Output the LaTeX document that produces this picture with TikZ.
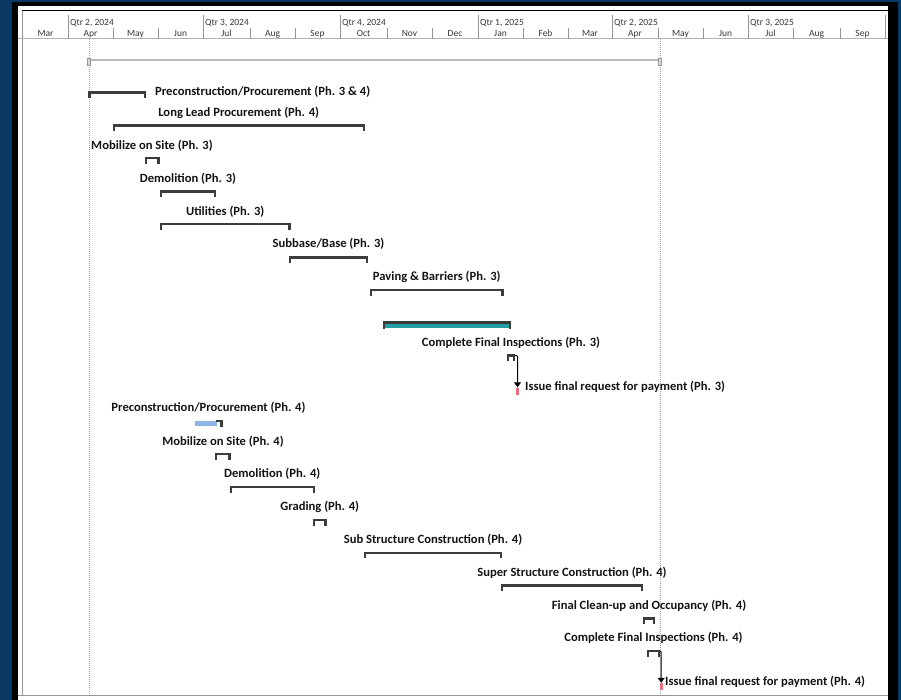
\documentclass[tikz,border=0pt]{standalone}
\usepackage{fontspec}
\setmainfont{Carlito}
\usetikzlibrary{arrows.meta}
\definecolor{navy}{RGB}{10,57,100}
\definecolor{barc}{RGB}{60,60,60}
\definecolor{tealc}{RGB}{36,158,160}
\definecolor{lblue}{RGB}{141,180,226}
\definecolor{pinkc}{RGB}{232,110,130}
\definecolor{txt}{RGB}{20,20,20}
\definecolor{hdr}{RGB}{55,55,55}
\definecolor{sepc}{RGB}{150,150,150}
\newcommand\ganttbar[4]{%
  \draw[barline] (#2,#4) -- (#3,#4);
  \fill[barc] (#2,{#4-1.2}) rectangle ({#2+2.4},{#4+5.5});
  \fill[barc] ({#3-2.4},{#4-1.2}) rectangle (#3,{#4+5.5});
  \coordinate (#1-s) at (#2,#4);
  \coordinate (#1-e) at (#3,#4);}
\newcommand\ganttlabel[4]{\node[lbl] (#1) at (#2,#3) {#4};}
\begin{document}
\begin{tikzpicture}[x=1pt,y=-1pt,
 barline/.style={barc,line width=2.3},
 lbl/.style={font=\fontsize{12.6}{14}\selectfont\bfseries,text=txt,inner sep=0pt},
 hdrtxt/.style={font=\fontsize{9.5}{10}\selectfont,text=hdr,inner sep=0pt},
 sepline/.style={sepc,line width=0.8},
 dotline/.style={gray!70,line width=0.9,dash pattern=on 1pt off 1pt},
 milestone/.style={rectangle,fill=pinkc,draw=none,minimum width=2.6pt,minimum height=7pt,inner sep=0pt},
 conn/.style={black,line width=1,rounded corners=1pt,-{Triangle[width=7pt,length=5pt]}}]
\useasboundingbox (0,0) rectangle (901,700);
% frame
\fill[navy] (0,0) rectangle (901,700);
\fill[black] (12,2) rectangle (898,700);
\fill[white] (18,6) rectangle (888,700);
% header
\draw[black,line width=1] (22,11) -- (888,11);
\draw[sepline] (22,11) -- (22,695);
\draw[gray!60,line width=1] (18,39) -- (888,39);
\draw[sepline] (18,695) -- (888,695);
\foreach \x in {68,203,340,478,612,748,885} \draw[sepline] (\x,15) -- (\x,39);
\foreach \x in {113,158,250,295,387,432,523,568,658,703,793,840} \draw[sepline] (\x,28) -- (\x,39);
\foreach \a/\b/\m [count=\i] in {23/68/Mar,68/113/Apr,113/158/May,158/203/Jun,203/250/Jul,250/295/Aug,295/340/Sep,340/387/Oct,387/432/Nov,432/478/Dec,478/523/Jan,523/568/Feb,568/612/Mar,612/658/Apr,658/703/May,703/748/Jun,748/793/Jul,793/840/Aug,840/885/Sep}
  \node[hdrtxt,anchor=base] (mon\i) at ({(\a+\b)/2},36.5) {\m};
\node[hdrtxt,anchor=base west] (q1) at (70,26) {Qtr 2, 2024};
\node[hdrtxt,anchor=base west] (q2) at (205,26) {Qtr 3, 2024};
\node[hdrtxt,anchor=base west] (q3) at (342,26) {Qtr 4, 2024};
\node[hdrtxt,anchor=base west] (q4) at (480,26) {Qtr 1, 2025};
\node[hdrtxt,anchor=base west] (q5) at (614,26) {Qtr 2, 2025};
\node[hdrtxt,anchor=base west] (q6) at (750,26) {Qtr 3, 2025};
% date lines
\draw[dotline] (89,39) -- (89,695);
\draw[dotline] (660,39) -- (660,695);
% project summary
\draw[gray!55,line width=1.7] (89,60) -- (660,60);
\draw[gray!80,fill=gray!30,line width=0.5] (87.5,58.5) rectangle (90.5,65);
\draw[gray!80,fill=gray!30,line width=0.5] (658.5,58.5) rectangle (661.5,65.5);
% row 1
\ganttbar{t1}{87.5}{146}{92.5}
\fill[barc] (87.5,91.3) rectangle (90.8,98);
\node[lbl,anchor=west] (t1l) at (155,91.7) {Preconstruction/Procurement (Ph. 3 \& 4)};
% rows 2-7
\ganttbar{t2}{112.5}{365}{125.5}
\ganttlabel{t2l}{238.75}{112.7}{Long Lead Procurement (Ph. 4)}
\ganttbar{t3}{144.5}{159.5}{158.3}
\ganttlabel{t3l}{152}{145.5}{Mobilize on Site (Ph. 3)}
\ganttbar{t4}{160}{216}{191.5}
\ganttlabel{t4l}{188}{178.3}{Demolition (Ph. 3)}
\ganttbar{t5}{160}{290.5}{224.2}
\ganttlabel{t5l}{225.25}{211.3}{Utilities (Ph. 3)}
\ganttbar{t6}{289}{368}{257.5}
\ganttlabel{t6l}{328.5}{244.2}{Subbase/Base (Ph. 3)}
\ganttbar{t7}{370}{503.5}{290.3}
\ganttlabel{t7l}{436.75}{277.3}{Paving \& Barriers (Ph. 3)}
% row 8 (teal)
\fill[tealc] (384,323.5) rectangle (510,328.3);
\draw[barc,line width=2.2] (383,322.5) -- (511,322.5);
\fill[barc] (383,321.4) rectangle (385.4,328.6);
\fill[barc] (508.6,321.4) rectangle (511,328.6);
% row 9
\ganttbar{t9}{507}{515}{355.5}
\ganttlabel{t9l}{511}{342.5}{Complete Final Inspections (Ph. 3)}
% row 10
\node[milestone] (m10) at (517.5,391) {};
\node[lbl,anchor=west] (m10l) at (525,386.7) {Issue final request for payment (Ph. 3)};
\draw[conn] (t9-e) -| (m10.north);
% row 11 (blue)
\fill[lblue] (195,420.8) rectangle (217,426.3);
\fill[barc] (216,420.2) rectangle (222.5,422.2);
\fill[barc] (220.2,420.2) rectangle (222.5,427);
\ganttlabel{t11l}{208.5}{408.2}{Preconstruction/Procurement (Ph. 4)}
% rows 12-18
\ganttbar{t12}{215}{230.7}{454}
\ganttlabel{t12l}{223}{441.5}{Mobilize on Site (Ph. 4)}
\ganttbar{t13}{229.5}{315}{487}
\ganttlabel{t13l}{272.25}{474}{Demolition (Ph. 4)}
\ganttbar{t14}{313}{326.5}{520}
\ganttlabel{t14l}{319.75}{507}{Grading (Ph. 4)}
\ganttbar{t15}{364}{502}{552.8}
\ganttlabel{t15l}{433}{539.6}{Sub Structure Construction (Ph. 4)}
\ganttbar{t16}{501}{643}{585.6}
\ganttlabel{t16l}{572}{572.5}{Super Structure Construction (Ph. 4)}
\ganttbar{t17}{643}{655}{618.4}
\ganttlabel{t17l}{649}{605.4}{Final Clean-up and Occupancy (Ph. 4)}
\ganttbar{t18}{647}{660}{651}
\ganttlabel{t18l}{653.5}{638.2}{Complete Final Inspections (Ph. 4)}
% row 19
\node[milestone] (m19) at (661.2,686.5) {};
\node[lbl,anchor=west] (m19l) at (665,682) {Issue final request for payment (Ph. 4)};
\draw[conn] (t18-e) -| (m19.north);
\end{tikzpicture}
\end{document}
